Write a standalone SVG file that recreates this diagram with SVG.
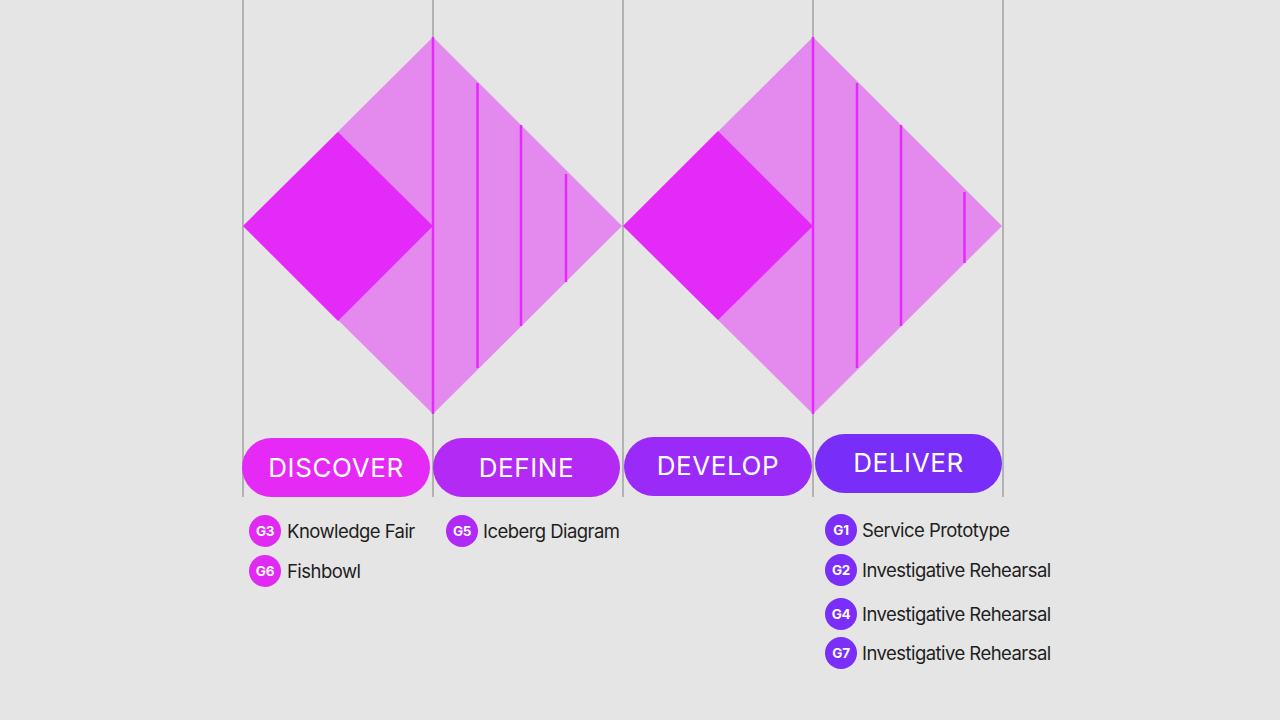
<svg xmlns="http://www.w3.org/2000/svg" width="1280" height="720" viewBox="0 0 1280 720">
<style>
.grid{stroke:#b3b3b3;stroke-width:2}
.light{fill:#e48aee}
.dark{fill:#e42af8}
.hatch{stroke:#e42af8;stroke-width:2.5}
.pill-t{font-family:Inter,"Noto Sans",sans-serif;font-size:26px;fill:#ffffff;text-anchor:middle;letter-spacing:0.6px}
.badge-t{font-family:Inter,"Noto Sans",sans-serif;font-size:13.5px;font-weight:700;fill:#ffffff;text-anchor:middle;letter-spacing:-0.3px}
.lbl{font-family:Inter,"Noto Sans",sans-serif;font-size:18.5px;fill:#1e1e1e;letter-spacing:-0.55px}
</style>
<rect width="1280" height="720" fill="#e5e5e5"/>
<g id="grid">
<line class="grid" x1="243" y1="0" x2="243" y2="497"/>
<line class="grid" x1="433" y1="0" x2="433" y2="497"/>
<line class="grid" x1="623" y1="0" x2="623" y2="497"/>
<line class="grid" x1="813" y1="0" x2="813" y2="497"/>
<line class="grid" x1="1003" y1="0" x2="1003" y2="497"/>
</g>
<g id="diamond1">
<polygon class="light" points="243,226 433,37 622,226 433,414"/>
<polygon class="dark" points="243,226 338,132 433,226 338,321"/>
<line class="hatch" x1="433" y1="37" x2="433" y2="414"/>
<line class="hatch" x1="477.5" y1="83" x2="477.5" y2="368"/>
<line class="hatch" x1="521" y1="125" x2="521" y2="326"/>
<line class="hatch" x1="566" y1="174" x2="566" y2="282"/>
</g>
<g id="diamond2">
<polygon class="light" points="623,226 813,37 1002,226 813,414"/>
<polygon class="dark" points="623,226 718,131 813,226 718,320"/>
<line class="hatch" x1="813" y1="37" x2="813" y2="414"/>
<line class="hatch" x1="857" y1="83" x2="857" y2="368"/>
<line class="hatch" x1="901" y1="125" x2="901" y2="326"/>
<line class="hatch" x1="964.5" y1="192" x2="964.5" y2="263"/>
</g>
<g id="discover">
<rect x="242" y="438" width="188" height="59" rx="29.5" fill="#e52af5"/>
<text class="pill-t" x="336" y="477">DISCOVER</text>
</g>
<g id="define">
<rect x="433" y="438" width="187" height="59" rx="29.5" fill="#b42af5"/>
<text class="pill-t" x="526.5" y="477">DEFINE</text>
</g>
<g id="develop">
<rect x="624" y="437" width="188" height="59" rx="29.5" fill="#9a2af8"/>
<text class="pill-t" x="718" y="475">DEVELOP</text>
</g>
<g id="deliver">
<rect x="815" y="434" width="187" height="59" rx="29.5" fill="#782ef8"/>
<text class="pill-t" x="908.5" y="472">DELIVER</text>
</g>
<g id="item-g3">
<circle cx="265" cy="531" r="16" fill="#e02af2"/>
<text class="badge-t" x="265" y="536">G3</text>
<text class="lbl" x="287" y="538">Knowledge Fair</text>
</g>
<g id="item-g6">
<circle cx="265" cy="571" r="16" fill="#e02af2"/>
<text class="badge-t" x="265" y="576">G6</text>
<text class="lbl" x="287" y="578">Fishbowl</text>
</g>
<g id="item-g5">
<circle cx="462" cy="531" r="16" fill="#b02af5"/>
<text class="badge-t" x="462" y="536">G5</text>
<text class="lbl" x="483" y="538">Iceberg Diagram</text>
</g>
<g id="item-g1">
<circle cx="841" cy="530" r="16" fill="#7a2ef8"/>
<text class="badge-t" x="841" y="535">G1</text>
<text class="lbl" x="862" y="537">Service Prototype</text>
</g>
<g id="item-g2">
<circle cx="841" cy="570" r="16" fill="#7a2ef8"/>
<text class="badge-t" x="841" y="575">G2</text>
<text class="lbl" x="862" y="577">Investigative Rehearsal</text>
</g>
<g id="item-g4">
<circle cx="841" cy="614" r="16" fill="#7a2ef8"/>
<text class="badge-t" x="841" y="619">G4</text>
<text class="lbl" x="862" y="621">Investigative Rehearsal</text>
</g>
<g id="item-g7">
<circle cx="841" cy="653" r="16" fill="#7a2ef8"/>
<text class="badge-t" x="841" y="658">G7</text>
<text class="lbl" x="862" y="660">Investigative Rehearsal</text>
</g>
</svg>
